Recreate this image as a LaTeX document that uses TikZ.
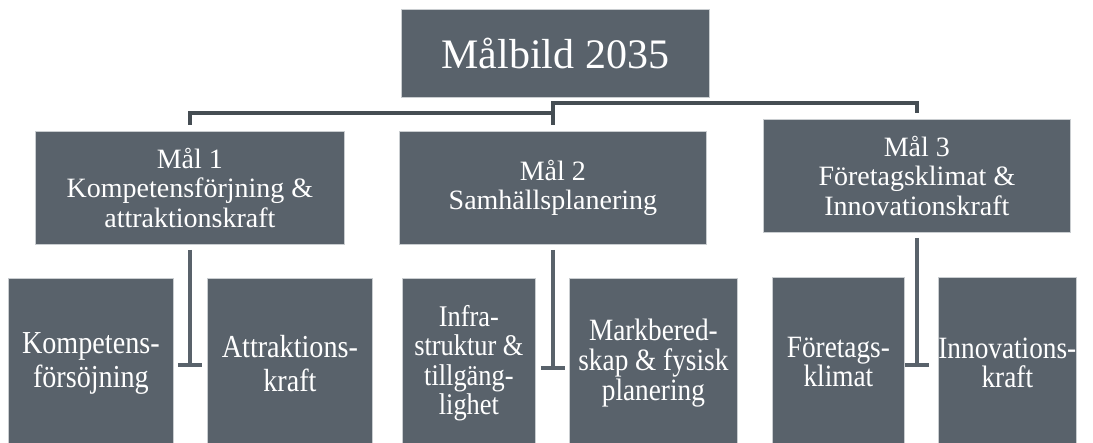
\documentclass[tikz,border=0pt]{standalone}
\usepackage{fontspec}
\setmainfont{Liberation Serif}
\newfontfamily\leaffont[FakeStretch=0.88]{Liberation Serif}
\usetikzlibrary{calc}
\definecolor{boxfill}{HTML}{59626B}
\definecolor{boxedge}{HTML}{C9CDD0}
\definecolor{linec}{HTML}{454D53}
\begin{document}
\begin{tikzpicture}[x=1pt,y=-1pt,
  box/.style={fill=boxfill, draw=boxedge, line width=0.8pt, inner sep=0pt, anchor=north west,
    text=white, align=center, font=\fontsize{28}{29.5}\selectfont},
  leaf/.style={box, minimum height=170pt, font=\leaffont\fontsize{32}{34}\selectfont},
  conn/.style={draw=linec, line width=4pt},
  leafconn/.style={draw=boxfill, line width=4pt}]
\useasboundingbox (0,0) rectangle (1093,443);
% top level
\node[box, minimum width=308pt, minimum height=88pt, font=\fontsize{42}{44}\selectfont] (top) at (401,9) {Målbild 2035};
% second level
\node[box, minimum width=309pt, minimum height=113pt] (m1) at (35,131) {Mål 1\\Kompetensförjning \&\\attraktionskraft};
\node[box, minimum width=307pt, minimum height=113pt] (m2) at (399,131) {Mål 2\\Samhällsplanering};
\node[box, minimum width=307pt, minimum height=113pt] (m3) at (763,119) {Mål 3\\Företagsklimat \&\\Innovationskraft};
% third level
\node[leaf, minimum width=165pt] (l1) at (8,278) {Kompetens-\\försöjning};
\node[leaf, minimum width=165pt] (l2) at (207,278) {Attraktions-\\kraft};
\node[leaf, minimum width=133pt, font=\leaffont\fontsize{30}{29.5}\selectfont] (l3) at (402,278) {Infra-\\struktur \&\\tillgäng-\\lighet};
\node[leaf, minimum width=168pt, font=\leaffont\fontsize{31}{30}\selectfont] (l4) at (569,278) {Markbered-\\skap \& fysisk\\planering};
\node[leaf, minimum width=132pt, font=\leaffont\fontsize{31}{29}\selectfont] (l5) at (772,277) {Företags-\\klimat};
\node[leaf, minimum width=132pt, font=\leaffont\fontsize{31}{29}\selectfont] (l6) at (938,277) {Innovations-\\kraft};
% connectors level 1 -> 2
\draw[conn] ($(m1.north)+(0,-6)$) |- ($(m2.north)+(0,-18)$);
\draw[conn] ($(m2.north)+(0,-6)$) -- ($(m2.north)+(0,-28)$) -| ($(m3.north)+(0,-6)$);
% connectors level 2 -> 3
\draw[leafconn] ($(m1.south)+(0,5)$) -- ($(m1.south)+(0,120)$) coordinate (e1);
\draw[leafconn] ($(e1)+(-12,0)$) -- ($(e1)+(12,0)$);
\draw[leafconn] ($(m2.south)+(0,5)$) -- ($(m2.south)+(0,123)$) coordinate (e2);
\draw[leafconn] ($(e2)+(-12,0)$) -- ($(e2)+(12,0)$);
\draw[leafconn] ($(m3.south)+(0,5)$) -- ($(m3.south)+(0,132)$) coordinate (e3);
\draw[leafconn] ($(e3)+(-12,0)$) -- ($(e3)+(12,0)$);
\end{tikzpicture}
\end{document}
